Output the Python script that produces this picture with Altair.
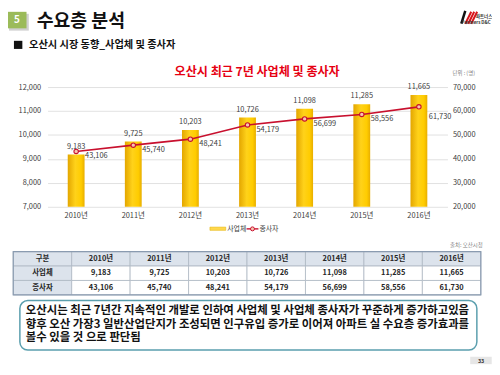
import altair as alt
import pandas as pd

# ---------------- data ----------------
years = ["2010년", "2011년", "2012년", "2013년", "2014년", "2015년", "2016년"]
biz = [9183, 9725, 10203, 10726, 11098, 11285, 11665]
workers = [43106, 45740, 48241, 54179, 56699, 58556, 61730]
left_ticks = [7000, 8000, 9000, 10000, 11000, 12000]
right_ticks = [20000, 30000, 40000, 50000, 60000, 70000]
series_names = ["사업체", "종사자"]
table_head = "구분"

section_no = "5"
page_title = "수요층 분석"
subtitle = "오산시 시장 동향_사업체 및 종사자"
chart_title = "오산시 최근 7년 사업체 및 종사자"
unit_note = "단위 : (명)"
source_note = "출처: 오산시청"
summary_lines = [
    "오산시는 최근 7년간 지속적인 개발로 인하여 사업체 및 사업체 종사자가 꾸준하게 증가하고있음",
    "향후 오산 가장3 일반산업단지가 조성되면 인구유입 증가로 이어져 아파트 실 수요층 증가효과를",
    "볼수 있을 것 으로 판단됨",
]
page_no = "33"
logo_text = "Partners D&C"
logo_kr = "파트너스"

# ---------------- style ----------------
FONT = "Noto Sans CJK KR"
RED = "#C8102E"
W, H = 404, 121
OX, OY = 48, 86  # plot origin in page coordinates


def px(x):
    return x - OX


def py(y):
    return y - OY


df = pd.DataFrame({"year": years, "biz": biz, "workers": workers})
one = pd.DataFrame({"a": [0]})
last_year = years[-1]

xband = alt.Scale(domain=years, paddingInner=0, paddingOuter=0)
xpoint = alt.Scale(type="point", domain=years, padding=0.5)
yl = alt.Scale(domain=[left_ticks[0], left_ticks[-1]], nice=False, zero=False)
yr = alt.Scale(domain=[right_ticks[0], right_ticks[-1]], nice=False, zero=False)

bar_grad = alt.LinearGradient(
    gradient="linear",
    stops=[
        alt.GradientStop(color="#E3A600", offset=0),
        alt.GradientStop(color="#FFD21A", offset=0.45),
        alt.GradientStop(color="#FFCC00", offset=0.8),
        alt.GradientStop(color="#E8AE00", offset=1),
    ],
    x1=0, x2=1, y1=0, y2=0,
)

bars = alt.Chart(df).mark_bar(size=17, fill=bar_grad).encode(
    x=alt.X("year:N", scale=xband,
            axis=alt.Axis(title=None, ticks=False, domain=False, labelPadding=5,
                          labelFontSize=7.5, labelColor="#404040", labelAngle=0)),
    y=alt.Y("biz:Q", scale=yl,
            axis=alt.Axis(values=left_ticks, format=",.0f", title=None, orient="left",
                          grid=True, gridColor="#D9D9D9", gridWidth=0.8,
                          ticks=False, domain=False, labelPadding=7,
                          labelFontSize=7.5, labelColor="#404040")),
    y2=alt.datum(left_ticks[0]),
)

bar_labels = alt.Chart(df).mark_text(
    font=FONT, fontSize=7.5, color="#404040", baseline="bottom", dy=-4
).encode(
    x=alt.X("year:N", scale=xpoint, axis=None),
    y=alt.Y("biz:Q", scale=yl, axis=None),
    text=alt.Text("biz:Q", format=","),
)

line = alt.Chart(df).mark_line(color=RED, strokeWidth=1.6).encode(
    x=alt.X("year:N", scale=xpoint, axis=None),
    y=alt.Y("workers:Q", scale=yr,
            axis=alt.Axis(values=right_ticks, format=",.0f", title=None, orient="right",
                          grid=False, ticks=False, domain=False, labelPadding=5,
                          labelFontSize=7.5, labelColor="#404040")),
)

points = alt.Chart(df).mark_point(
    shape="circle", size=20, filled=True, fill="#F6C6B0", stroke=RED, strokeWidth=1.1, opacity=1
).encode(
    x=alt.X("year:N", scale=xpoint, axis=None),
    y=alt.Y("workers:Q", scale=yr, axis=None),
)


def line_label_layer(filter_expr, dx, dy):
    return alt.Chart(df).transform_filter(filter_expr).mark_text(
        font=FONT, fontSize=7.5, color="#404040", align="left", baseline="middle", dx=dx, dy=dy
    ).encode(
        x=alt.X("year:N", scale=xpoint, axis=None),
        y=alt.Y("workers:Q", scale=yr, axis=None),
        text=alt.Text("workers:Q", format=","),
    )


line_labels = line_label_layer(f"datum.year != '{last_year}'", 9, 5)
line_labels_last = line_label_layer(f"datum.year == '{last_year}'", 10, 10)

# ---------------- table ----------------
rows = [table_head] + series_names
cols = [table_head] + years
vals = {series_names[0]: biz, series_names[1]: workers}
cells = []
for r in rows:
    for j, c in enumerate(cols):
        if r == table_head:
            t = c
        elif c == table_head:
            t = r
        else:
            t = f"{vals[r][j - 1]:,}"
        cells.append({"r": r, "c": c, "t": t})
tdf = pd.DataFrame(cells)

tx_range = [px(13.3), px(485.7)]
ty_range = [py(252.3), py(296)]
tx_band = alt.Scale(domain=cols, range=tx_range, paddingInner=0, paddingOuter=0)
ty_band = alt.Scale(domain=rows, range=ty_range, paddingInner=0, paddingOuter=0)
tx_pt = alt.Scale(type="point", domain=cols, range=tx_range, padding=0.5)
ty_pt = alt.Scale(type="point", domain=rows, range=ty_range, padding=0.5)

table_cells = alt.Chart(tdf).mark_rect(stroke="#AEB8C4", strokeWidth=0.8).encode(
    x=alt.X("c:N", scale=tx_band, axis=None),
    y=alt.Y("r:N", scale=ty_band, axis=None),
    fill=alt.condition(
        f"datum.r == '{table_head}' || datum.c == '{table_head}'",
        alt.value("#DCE3EC"), alt.value("#FFFFFF")),
)
table_border = alt.Chart(one).mark_rect(fill=None, stroke="#8A9BB0", strokeWidth=1.2).encode(
    x=alt.value(tx_range[0]), x2=alt.value(tx_range[1]),
    y=alt.value(ty_range[0]), y2=alt.value(ty_range[1]),
)
table_text = alt.Chart(tdf).mark_text(
    font=FONT, fontSize=7.5, fontWeight="bold", color="#262626", baseline="middle"
).encode(
    x=alt.X("c:N", scale=tx_pt, axis=None),
    y=alt.Y("r:N", scale=ty_pt, axis=None),
    text="t:N",
)


# ---------------- decorations ----------------
def rect(x1, x2, y1, y2, **kw):
    return alt.Chart(one).mark_rect(**kw).encode(
        x=alt.value(px(x1)), x2=alt.value(px(x2)),
        y=alt.value(py(y1)), y2=alt.value(py(y2)))


def label(text, x, y, **kw):
    return alt.Chart(pd.DataFrame({"t": [text]})).mark_text(font=FONT, **kw).encode(
        x=alt.value(px(x)), y=alt.value(py(y)), text="t:N")


def seg(x1, x2, y1, y2, **kw):
    return alt.Chart(one).mark_rule(**kw).encode(
        x=alt.value(px(x1)), x2=alt.value(px(x2)),
        y=alt.value(py(y1)), y2=alt.value(py(y2)))


deco = [
    rect(9, 29, 12, 29, fill="#D0D0D0"),
    rect(7.3, 26.7, 10, 26.7, fill="#9BBB59"),
    label(section_no, 17, 18.5, fontSize=10, color="white", fontWeight="bold",
          align="center", baseline="middle"),
    label(page_title, 37, 19.5, fontSize=18.5, fontWeight="bold", color="#111111",
          align="left", baseline="middle"),
    rect(14, 22.5, 39.3, 47.5, fill="#111111"),
    label(subtitle, 29.3, 43.5, fontSize=10.3, fontWeight="bold", color="#111111",
          align="left", baseline="middle"),
    # logo
    seg(466, 470, 22, 9, stroke="#111111", strokeWidth=2.5),
    seg(470, 476, 22, 10, stroke="#D7141A", strokeWidth=2),
    seg(473, 479, 22, 10, stroke="#D7141A", strokeWidth=2),
    seg(476, 482, 22, 10, stroke="#D7141A", strokeWidth=2),
    label(logo_kr, 489, 15.5, fontSize=4.5, fontWeight="bold", color="#333333",
          align="center", baseline="middle"),
    label(logo_text, 481, 21, fontSize=4.5, fontWeight="bold", color="#333333",
          align="center", baseline="middle"),
    # chart title & unit
    label(chart_title, 259.7, 71, fontSize=12.2, fontWeight="bold", color="#E60012",
          align="center", baseline="middle"),
    label(unit_note, 457, 72, fontSize=5.5, color="#7F7F7F", align="left", baseline="middle"),
    # legend
    rect(212, 228, 227.5, 230.8, fill="#FFD84D", stroke="#E0B000", strokeWidth=0.5),
    label(series_names[0], 229.5, 229.3, fontSize=7, color="#404040", align="left",
          baseline="middle"),
    seg(249, 261, 229.3, 229.3, stroke=RED, strokeWidth=1.4),
    label(series_names[1], 262, 229.3, fontSize=7, color="#404040", align="left",
          baseline="middle"),
    # source
    label(source_note, 487.7, 245.5, fontSize=5.5, color="#7F7F7F", align="right",
          baseline="middle"),
    # summary box
    rect(20, 481.7, 301.7, 351.7, fill="#FFFFFF", stroke="#5B9FAE", strokeWidth=1.5,
         cornerRadius=8),
    # page number
    rect(475, 496.7, 358.5, 366, fill="#E6E6E6"),
    label(page_no, 486, 362.5, fontSize=5.5, fontWeight="bold", color="#333333",
          align="center", baseline="middle"),
]

legend_dot = alt.Chart(one).mark_point(
    shape="circle", size=16, filled=True, fill="#F6C6B0", stroke=RED, strokeWidth=1, opacity=1
).encode(x=alt.value(px(255)), y=alt.value(py(229.3)))

summary = label("\n".join(summary_lines), 26, 312.5, fontSize=11.5, fontWeight="bold",
                color="#111111", align="left", baseline="middle",
                lineBreak="\n", lineHeight=13.7)

chart = alt.layer(
    bars, bar_labels, line, points, line_labels, line_labels_last,
    table_cells, table_border, table_text,
    *deco, legend_dot, summary,
).resolve_scale(
    x="independent", y="independent"
).properties(
    width=W, height=H,
    autosize=alt.AutoSizeParams(type="none"),
    padding={"left": 40, "top": 78, "right": 45, "bottom": 160},
    background="white",
).configure_view(
    stroke=None
).configure_axis(
    labelFont=FONT
)

chart.save("out.html", embed_options={"renderer": "svg", "actions": False})
